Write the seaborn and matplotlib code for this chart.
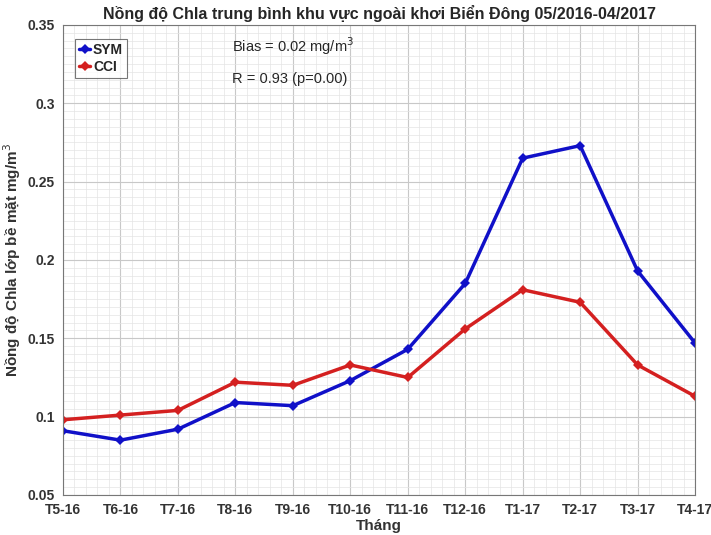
import numpy as np
import pandas as pd
import matplotlib
matplotlib.use('Agg')
import matplotlib.pyplot as plt
import seaborn as sns
from matplotlib.ticker import AutoMinorLocator

thang = ['T5-16', 'T6-16', 'T7-16', 'T8-16', 'T9-16', 'T10-16',
         'T11-16', 'T12-16', 'T1-17', 'T2-17', 'T3-17', 'T4-17']
sym = [0.091, 0.085, 0.092, 0.109, 0.107, 0.123, 0.143, 0.185, 0.265, 0.273, 0.193, 0.147]
cci = [0.098, 0.101, 0.104, 0.122, 0.120, 0.133, 0.125, 0.156, 0.181, 0.173, 0.133, 0.113]
yticks = [0.05, 0.1, 0.15, 0.2, 0.25, 0.3, 0.35]
ytick_labels = ['0.05', '0.1', '0.15', '0.2', '0.25', '0.3', '0.35']

df = pd.DataFrame({
    'idx': list(range(len(thang))) * 2,
    'val': sym + cci,
    'nguon': ['SYM'] * len(thang) + ['CCI'] * len(thang),
})

sns.set_style('white')
plt.rcParams['font.family'] = ['Liberation Sans', 'DejaVu Sans']

fig = plt.figure(figsize=(7.11, 5.35), dpi=100)
ax = fig.add_axes([0.0886, 0.0748, 0.889, 0.8785])

sns.lineplot(data=df, x='idx', y='val', hue='nguon',
             palette={'SYM': '#1010c8', 'CCI': '#d42020'},
             marker='D', markersize=5, markeredgewidth=0,
             linewidth=2.5, ax=ax)

ax.set_xlim(0, len(thang) - 1)
ax.set_ylim(0.05, 0.35)
ax.set_xticks(range(len(thang)))
ax.set_xticklabels(thang, fontsize=10, fontweight='bold', color='#333333')
ax.set_yticks(yticks)
ax.set_yticklabels(ytick_labels, fontsize=10, fontweight='bold', color='#333333')
ax.xaxis.set_minor_locator(AutoMinorLocator(5))
ax.yaxis.set_minor_locator(AutoMinorLocator(10))
ax.grid(True, which='major', color='#c8c8c8', linewidth=0.8)
ax.grid(True, which='minor', color='#e4e4e4', linewidth=0.5)
ax.set_axisbelow(True)
ax.tick_params(which='both', direction='in', length=3, color='#555555')
ax.tick_params(axis='x', pad=6)
ax.tick_params(axis='y', pad=6)
ax.tick_params(which='minor', length=0)
for s in ax.spines.values():
    s.set_color('#777777')
    s.set_linewidth(0.8)

ax.set_xlabel('Tháng', fontsize=11, fontweight='bold', color='#333333', labelpad=1)
ax.set_ylabel('Nồng độ Chla lớp bề mặt mg/m$^3$', fontsize=11, fontweight='bold',
              color='#333333', labelpad=3)
ax.set_title('Nồng độ Chla trung bình khu vực ngoài khơi Biển Đông 05/2016-04/2017',
             fontsize=11.5, fontweight='bold', pad=4)

ax.text(0.267, 0.955, 'Bias = 0.02 mg/m$^3$', transform=ax.transAxes,
        fontsize=10.5, va='center', ha='left')
ax.text(0.267, 0.885, 'R = 0.93 (p=0.00)', transform=ax.transAxes,
        fontsize=10.5, va='center', ha='left')

leg = ax.legend(loc='upper left', bbox_to_anchor=(0.008, 0.985), fontsize=10,
                frameon=True, fancybox=False, edgecolor='#555555',
                handlelength=0.8, handletextpad=0.2, borderpad=0.3,
                labelspacing=0.2, title=None)
for t in leg.get_texts():
    t.set_fontweight('bold')
leg.get_frame().set_linewidth(0.8)

fig.savefig('out.png', dpi=100)
